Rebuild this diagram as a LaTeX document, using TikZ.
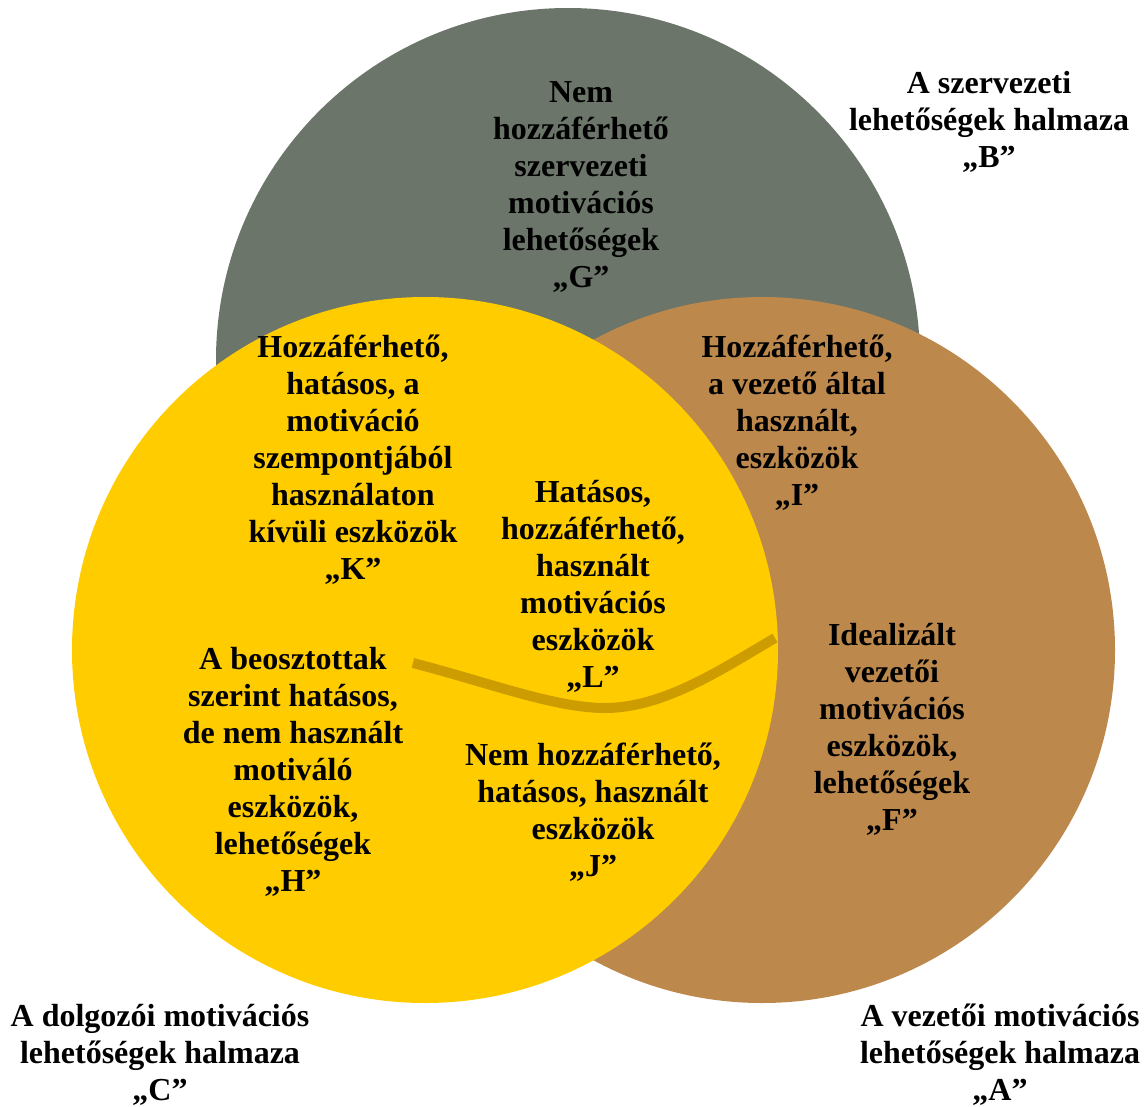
\documentclass[tikz,border=0pt]{standalone}
\usepackage{fontspec}
\setmainfont{Liberation Serif}
\usepackage{xcolor}
\usepackage{tikz}
\definecolor{orgFill}{HTML}{6B7569}
\definecolor{leaderFill}{HTML}{BD884B}
\definecolor{staffFill}{HTML}{FFCC00}
\definecolor{borderLine}{HTML}{CC9C00}

\begin{document}
\begin{tikzpicture}[
  x=1pt, y=-1pt,
  font=\fontsize{32}{37}\selectfont\bfseries,
  set label/.style={
    align=center,
    inner sep=0pt,
    text=black
  },
  border curve/.style={
    draw=borderLine,
    line width=10pt
  }
]
\useasboundingbox (0,0) rectangle (1148,1107);

% The three sets: organisation (B), leader (A), staff (C)
\fill[orgFill] (568,360) circle (352);
\fill[leaderFill] (762,650) circle (353);
\fill[staffFill] (425,650) circle (353);

% Boundary inside the staff set
\coordinate (curveStart) at (413,663);
\coordinate (curveLow) at (605,708);
\coordinate (curveEnd) at (775,638);
\draw[border curve] (curveStart) .. controls (490,683) and (555,708) .. (curveLow)
  .. controls (665,708) and (725,667) .. (curveEnd);

% Region labels
\node[set label] (regionG) at (581,187)
  {Nem\\hozzáférhető\\szervezeti\\motivációs\\lehetőségek\\„G”};
\node[set label] (regionK) at (353,460)
  {Hozzáférhető,\\hatásos, a\\motiváció\\szempontjából\\használaton\\kívüli eszközök\\„K”};
\node[set label] (regionI) at (797,423)
  {Hozzáférhető,\\a vezető által\\használt,\\eszközök\\„I”};
\node[set label] (regionL) at (593,586)
  {Hatásos,\\hozzáférhető,\\használt\\motivációs\\eszközök\\„L”};
\node[set label] (regionF) at (892,729)
  {Idealizált\\vezetői\\motivációs\\eszközök,\\lehetőségek\\„F”};
\node[set label] (regionH) at (293,772)
  {A beosztottak\\szerint hatásos,\\de nem használt\\motiváló\\eszközök,\\lehetőségek\\„H”};
\node[set label] (regionJ) at (593,812)
  {Nem hozzáférhető,\\hatásos, használt\\eszközök\\„J”};

% Set names
\node[set label] (setB) at (989,122)
  {A szervezeti\\lehetőségek halmaza\\„B”};
\node[set label] (setC) at (160,1055)
  {A dolgozói motivációs\\lehetőségek halmaza\\„C”};
\node[set label] (setA) at (1000,1055)
  {A vezetői motivációs\\lehetőségek halmaza\\„A”};

\end{tikzpicture}
\end{document}
